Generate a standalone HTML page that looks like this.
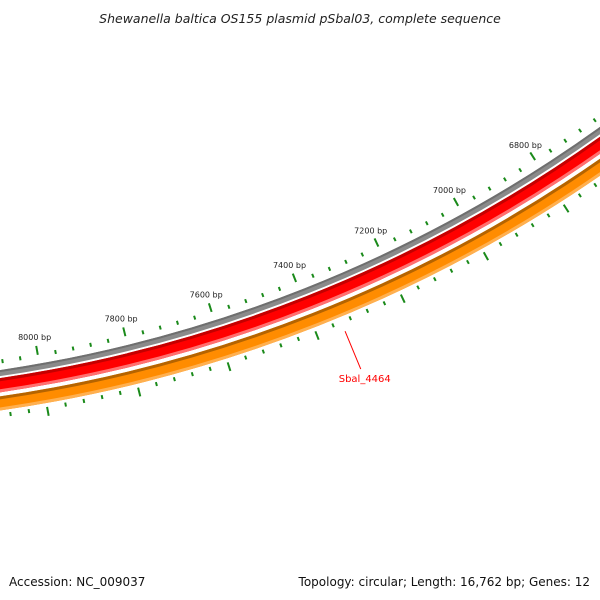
<!DOCTYPE html>
<html><head><meta charset="utf-8"><style>
html,body{margin:0;padding:0;background:#fff;}
svg{display:block;font-family:"DejaVu Sans","Liberation Sans",sans-serif;}
</style></head><body>
<svg id="map" width="600" height="600" viewBox="0 0 600 600" xmlns="http://www.w3.org/2000/svg">
<rect width="600" height="600" fill="#fff"/>
<text x="300" y="23" font-size="12.5" font-style="italic" text-anchor="middle" fill="#222">Shewanella baltica OS155 plasmid pSbal03, complete sequence</text>
<g id="rings"></g>
<g id="ticks"></g>
<g id="labels"></g>
<g id="genes"></g>
<text x="9" y="586" font-size="12" fill="#111">Accession: NC_009037</text>
<text x="590" y="586" font-size="12" text-anchor="end" fill="#111">Topology: circular; Length: 16,762 bp; Genes: 12</text>
</svg>
<script>
const tickLabels = [6800, 7000, 7200, 7400, 7600, 7800, 8000];
const geneNames = ["Sbal_4464"];
const geneStarts = [6000];
const geneEnds = [8700];
const bpRange = [6200, 8600];

const NS = "http://www.w3.org/2000/svg";
const cx = -202, cy = -990;
function ang(bp){ return (79.89 + (bp - 8000) * 0.01879) * Math.PI / 180; }
function pt(bp, r){ const a = ang(bp); return [cx + r*Math.cos(a), cy + r*Math.sin(a)]; }
function mk(tag, attrs, parent){ const e = document.createElementNS(NS, tag); for (const k in attrs) e.setAttribute(k, attrs[k]); parent.appendChild(e); return e; }

const rings = document.getElementById('rings');
const ringDefs = [[1378,6,'#8a8a8a'],[1376,2,'#6f6f6f'],[1390,14,'#ff0000'],[1384.5,3,'#c40000'],[1395.5,3,'#ff7070'],[1408,14,'#ff8c00'],[1402.5,3,'#b56400'],[1413.5,3,'#ffb050']];
ringDefs.forEach(d => {
  const c = mk('circle', {cx:cx, cy:cy, r:d[0], fill:'none', stroke:d[2], 'stroke-width':d[1]}, rings);
  
  
});

const ticks = document.getElementById('ticks');
for (let bp = bpRange[0]; bp <= bpRange[1]; bp += 40) {
  const major = bp % 200 === 0;
  const inner = major ? [1357,1366] : [1364.5,1368.5];
  const outer = major ? [1419,1428] : [1418,1422];
  [inner, outer].forEach(rr => {
    const p1 = pt(bp, rr[0]), p2 = pt(bp, rr[1]);
    const l = mk('line', {x1:p1[0], y1:p1[1], x2:p2[0], y2:p2[1], stroke:'#1a8a1a', 'stroke-width':2}, ticks);
    
    
  });
}

const labels = document.getElementById('labels');
tickLabels.forEach(bp => {
  const p = pt(bp, 1348);
  const t = mk('text', {x:p[0], y:p[1]+3, 'font-size':8, 'text-anchor':'middle', fill:'#222'}, labels);
  t.textContent = bp + ' bp';
  
  
});

const genes = document.getElementById('genes');
geneNames.forEach((name, i) => {
  const mid = 7341;
  const p1 = pt(mid, 1430), p2 = pt(mid, 1471);
  const l = mk('line', {x1:p1[0], y1:p1[1], x2:p2[0], y2:p2[1], stroke:'#ff0000', 'stroke-width':1}, genes);
  
  
  const t = mk('text', {x:p2[0]+4, y:p2[1]+13, 'font-size':10, 'text-anchor':'middle', fill:'#ff0000'}, genes);
  t.textContent = name;
  
  
});
</script>
</body></html>
